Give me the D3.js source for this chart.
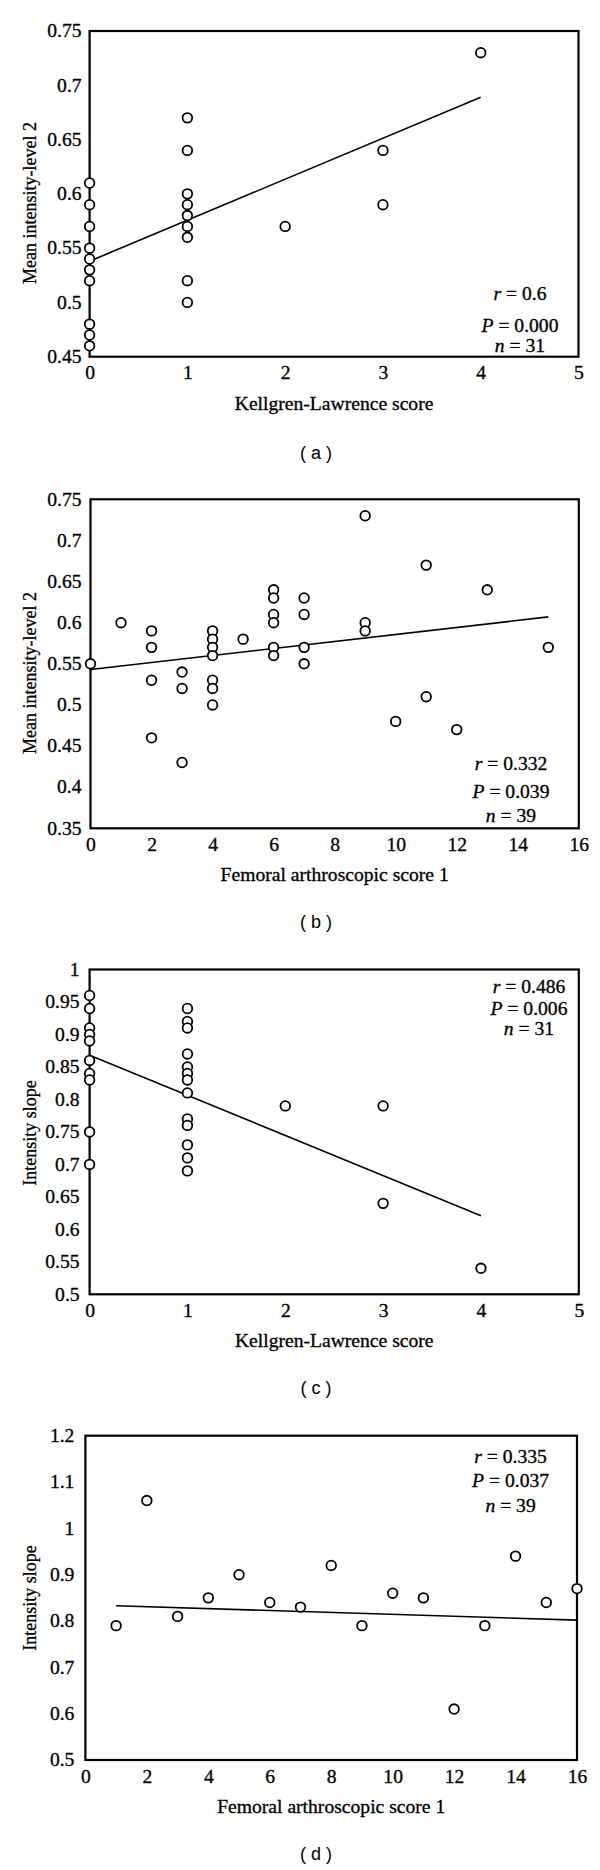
<!DOCTYPE html>
<html>
<head>
<meta charset="utf-8">
<script src="https://cdn.jsdelivr.net/npm/d3@7"></script>
<style>
  html, body { margin: 0; padding: 0; background: #fff; }
  svg { display: block; }
</style>
</head>
<body>
<svg id="chart" width="600" height="1870"></svg>
<script>
// ---------------- DATA ----------------
// Panel (a): Kellgren-Lawrence score vs Mean intensity-level 2
const aX = [0,0,0,0,0,0,0,0,0,0, 1,1,1,1,1,1,1,1,1, 2, 3,3, 4];
const aY = [0.61,0.59,0.57,0.55,0.54,0.53,0.52,0.48,0.47,0.46,
            0.67,0.64,0.60,0.59,0.58,0.57,0.56,0.52,0.50,
            0.57, 0.64,0.59, 0.73];
const aLineX = [0, 4];
const aLineY = [0.538, 0.689];
const aXTicks = [0,1,2,3,4,5];
const aYTicks = [0.45,0.5,0.55,0.6,0.65,0.7,0.75];
const aStats = ["r = 0.6", "P = 0.000", "n = 31"];

// Panel (b): Femoral arthroscopic score 1 vs Mean intensity-level 2
const bX = [0, 1, 2,2,2,2, 3,3,3, 4,4,4,4,4,4,4, 5, 6,6,6,6,6,6, 7,7,7,7, 9,9,9, 10, 11,11, 12, 13, 15];
const bY = [0.55, 0.60, 0.59,0.57,0.53,0.46, 0.54,0.52,0.43,
            0.59,0.58,0.57,0.56,0.53,0.52,0.50, 0.58,
            0.64,0.63,0.61,0.60,0.57,0.56, 0.63,0.61,0.57,0.55,
            0.73,0.60,0.59, 0.48, 0.67,0.51, 0.47, 0.64, 0.57];
const bLineX = [0, 15];
const bLineY = [0.543, 0.607];
const bXTicks = [0,2,4,6,8,10,12,14,16];
const bYTicks = [0.35,0.4,0.45,0.5,0.55,0.6,0.65,0.7,0.75];
const bStats = ["r = 0.332", "P = 0.039", "n = 39"];

// Panel (c): Kellgren-Lawrence score vs Intensity slope
const cX = [0,0,0,0,0,0,0,0,0,0, 1,1,1,1,1,1,1,1,1,1,1,1,1, 2, 3,3, 4];
const cY = [0.96,0.94,0.91,0.90,0.89,0.86,0.84,0.83,0.75,0.70,
            0.94,0.92,0.91,0.87,0.85,0.84,0.83,0.81,0.77,0.76,0.73,0.71,0.69,
            0.79, 0.79,0.64, 0.54];
const cLineX = [0, 4];
const cLineY = [0.868, 0.621];
const cXTicks = [0,1,2,3,4,5];
const cYTicks = [0.5,0.55,0.6,0.65,0.7,0.75,0.8,0.85,0.9,0.95,1];
const cStats = ["r = 0.486", "P = 0.006", "n = 31"];

// Panel (d): Femoral arthroscopic score 1 vs Intensity slope
const dX = [1,2,3,4,5,6,7,8,9,10,11,12,13,14,15,16];
const dY = [0.79,1.06,0.81,0.85,0.90,0.84,0.83,0.92,0.79,0.86,0.85,0.61,0.79,0.94,0.84,0.87];
const dLineX = [1, 16];
const dLineY = [0.833, 0.802];
const dXTicks = [0,2,4,6,8,10,12,14,16];
const dYTicks = [0.5,0.6,0.7,0.8,0.9,1,1.1,1.2];
const dStats = ["r = 0.335", "P = 0.037", "n = 39"];

const xTitleKL = "Kellgren-Lawrence score";
const xTitleFem = "Femoral arthroscopic score 1";
const yTitleMean = "Mean intensity-level 2";
const yTitleSlope = "Intensity slope";
const panelLabels = ["( a )", "( b )", "( c )", "( d )"];

// ---------------- LAYOUT ----------------
const SERIF = "'Liberation Serif', 'Times New Roman', serif";
const SANS = "'Liberation Sans', Arial, sans-serif";
const SX = 1.09; // horizontal stretch of the reference text
const TXT_STROKE = 0.3;

const panels = [
  { xs: aX, ys: aY, lx: aLineX, ly: aLineY, xt: aXTicks, yt: aYTicks, stats: aStats,
    xTitle: xTitleKL, yTitle: yTitleMean, label: panelLabels[0],
    left: 89.6, right: 578.5, top: 31, bottom: 356.7,
    xDom: [0,5], yDom: [0.45,0.75], yPad: 8,
    yTitleY: 203, statX: 520, statY: [300, 331.5, 351.6], labelY: 459 },
  { xs: bX, ys: bY, lx: bLineX, ly: bLineY, xt: bXTicks, yt: bYTicks, stats: bStats,
    xTitle: xTitleFem, yTitle: yTitleMean, label: panelLabels[1],
    left: 90.5, right: 578.8, top: 499.3, bottom: 828.3,
    xDom: [0,16], yDom: [0.35,0.75], yPad: 9,
    yTitleY: 673, statX: 511, statY: [770, 798, 821.7], labelY: 928 },
  { xs: cX, ys: cY, lx: cLineX, ly: cLineY, xt: cXTicks, yt: cYTicks, stats: cStats,
    xTitle: xTitleKL, yTitle: yTitleSlope, label: panelLabels[2],
    left: 89.6, right: 578.8, top: 969.5, bottom: 1294.3,
    xDom: [0,5], yDom: [0.5,1], yPad: 10,
    yTitleY: 1133, statX: 529, statY: [992.7, 1015, 1035], labelY: 1394 },
  { xs: dX, ys: dY, lx: dLineX, ly: dLineY, xt: dXTicks, yt: dYTicks, stats: dStats,
    xTitle: xTitleFem, yTitle: yTitleSlope, label: panelLabels[3],
    left: 85.4, right: 577, top: 1435.7, bottom: 1760,
    xDom: [0,16], yDom: [0.5,1.2], yPad: 11,
    yTitleY: 1598, statX: 510.6, statY: [1462.7, 1486.7, 1511.7], labelY: 1860 }
];

const svg = d3.select("#chart");
svg.append("rect").attr("width", 600).attr("height", 1870).attr("fill", "#fff");

const fmt = d => String(+d.toFixed(2));

panels.forEach(p => {
  const x = d3.scaleLinear().domain(p.xDom).range([p.left, p.right]);
  const y = d3.scaleLinear().domain(p.yDom).range([p.bottom, p.top]);
  const g = svg.append("g");

  // axes (labels only, no tick marks)
  const gx = g.append("g").attr("transform", `translate(0,${p.bottom})`)
    .call(d3.axisBottom(x).tickValues(p.xt).tickSize(0).tickPadding(10).tickFormat(fmt));
  const gy = g.append("g").attr("transform", `translate(${p.left},0)`)
    .call(d3.axisLeft(y).tickValues(p.yt).tickSize(0).tickPadding(p.yPad).tickFormat(fmt));
  [gx, gy].forEach(a => {
    a.select(".domain").remove();
    a.selectAll("text")
      .attr("font-family", SERIF).attr("font-size", 18).attr("fill", "#000")
      .attr("stroke", "#000").attr("stroke-width", TXT_STROKE)
      .attr("transform", `scale(${SX},1)`);
  });
  gx.selectAll(".tick text").attr("x", 0);
  gy.selectAll(".tick text").attr("x", -p.yPad / SX);

  // plot frame
  g.append("rect")
    .attr("x", p.left).attr("y", p.top)
    .attr("width", p.right - p.left).attr("height", p.bottom - p.top)
    .attr("fill", "none").attr("stroke", "#000").attr("stroke-width", 2.2);

  // regression line
  const line = d3.line().x(d => x(d[0])).y(d => y(d[1]));
  g.append("path")
    .datum(p.lx.map((v, i) => [v, p.ly[i]]))
    .attr("d", line).attr("fill", "none").attr("stroke", "#000").attr("stroke-width", 1.6);

  // points
  g.append("g").selectAll("circle")
    .data(p.xs.map((v, i) => [v, p.ys[i]]))
    .join("circle")
    .attr("cx", d => x(d[0])).attr("cy", d => y(d[1]))
    .attr("r", 4.8)
    .attr("fill", "#fff").attr("stroke", "#000").attr("stroke-width", 1.8);

  // x title
  g.append("text")
    .attr("transform", `translate(${(p.left + p.right) / 2},${p.bottom + 53}) scale(${SX},1)`)
    .attr("text-anchor", "middle")
    .attr("font-family", SERIF).attr("font-size", 18)
    .attr("stroke", "#000").attr("stroke-width", TXT_STROKE)
    .text(p.xTitle);

  // y title
  g.append("text")
    .attr("transform", `translate(36,${p.yTitleY}) rotate(-90)`)
    .attr("text-anchor", "middle")
    .attr("font-family", SERIF).attr("font-size", 18)
    .attr("stroke", "#000").attr("stroke-width", TXT_STROKE)
    .text(p.yTitle);

  // stats annotation
  p.stats.forEach((s, i) => {
    const t = g.append("text")
      .attr("transform", `translate(${p.statX},${p.statY[i]}) scale(${SX},1)`)
      .attr("text-anchor", "middle")
      .attr("font-family", SERIF).attr("font-size", 18)
      .attr("stroke", "#000").attr("stroke-width", TXT_STROKE);
    t.append("tspan").attr("font-style", "italic").text(s.charAt(0));
    t.append("tspan").text(s.slice(1));
  });

  // panel label
  g.append("text")
    .attr("x", 316).attr("y", p.labelY)
    .attr("text-anchor", "middle")
    .attr("font-family", SANS).attr("font-size", 18)
    .text(p.label);
});
</script>
</body>
</html>
